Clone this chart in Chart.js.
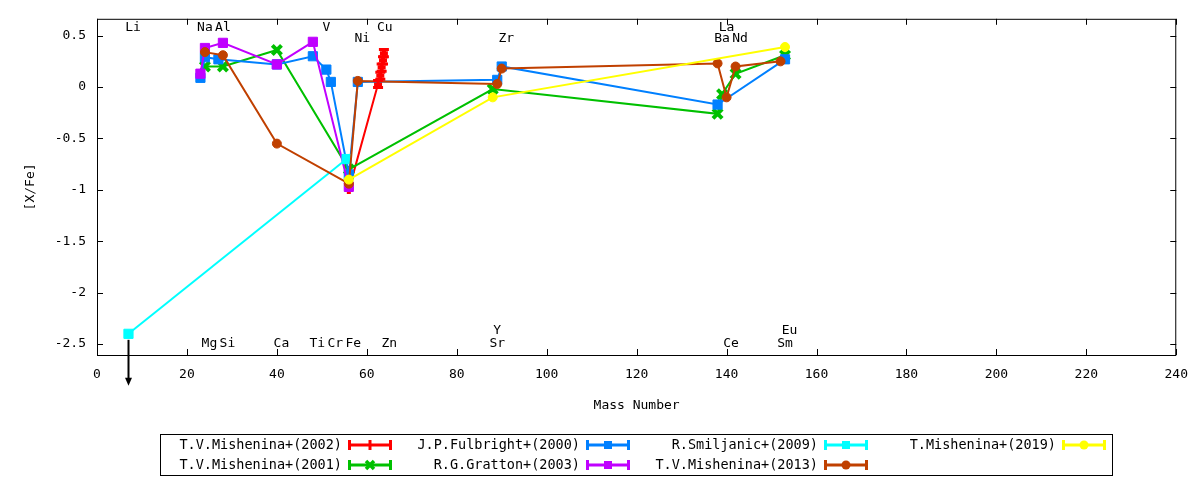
<!DOCTYPE html>
<html>
<head>
<meta charset="utf-8">
<script src="https://cdn.jsdelivr.net/npm/chart.js@4.4.1/dist/chart.umd.min.js"></script>
<style>
  body { margin: 0; background: #fff; }
  #wrap { position: relative; width: 1200px; height: 480px; }
  #legend { position: absolute; left: 160px; top: 434px; width: 951px; height: 40px; border: 1px solid #000;
            font: 13.5px "DejaVu Sans Mono", monospace; color: #000; }
  .item { position: absolute; width: 238px; height: 20px; line-height: 20px; }
  .item span { position: absolute; right: 57px; top: -1px; white-space: nowrap; }
  .item svg { position: absolute; left: 187px; top: 3px; }
</style>
</head>
<body>
<div id="wrap">
  <canvas id="chart" width="1200" height="480"></canvas>
  <div id="legend"></div>
</div>
<script>
// axis ticks
const xTickValues = [0, 20, 40, 60, 80, 100, 120, 140, 160, 180, 200, 220, 240]
const yTickValues = [-2.5, -2, -1.5, -1, -0.5, 0, 0.5]

// element names written on the plot, at their mass number
const topNames = ['Li', 'Na', 'Al', 'V', 'Cu', 'La']
const topMass = [7, 23, 27, 50, 63, 139]
const upperNames = ['Ni', 'Zr', 'Ba', 'Nd']
const upperMass = [58, 90, 138, 142]
const bottomNames = ['Mg', 'Si', 'Ca', 'Ti', 'Cr', 'Fe', 'Zn', 'Sr', 'Ce', 'Sm']
const bottomMass = [24, 28, 40, 48, 52, 56, 64, 88, 140, 152]
const lowerNames = ['Y', 'Eu']
const lowerMass = [88, 153]

// [X/Fe] by mass number, one pair of arrays per study
const mishenina2002Mass = [56, 62.5, 63, 63.3, 63.6, 63.8]
const mishenina2002Val = [-1.0, 0.03, 0.11, 0.19, 0.26, 0.33]
const mishenina2002Err = [0, 0.035, 0.035, 0.035, 0.035, 0.035]

const mishenina2001Mass = [24, 28, 40, 56, 88, 138, 139, 142, 153]
const mishenina2001Val = [0.2, 0.2, 0.36, -0.8, -0.02, -0.26, -0.07, 0.13, 0.31]

const fulbrightMass = [23, 24, 27, 40, 48, 51, 52, 56, 58, 89, 90, 138, 153]
const fulbrightVal = [0.09, 0.29, 0.27, 0.22, 0.3, 0.17, 0.05, -0.85, 0.05, 0.07, 0.2, -0.17, 0.27]

const grattonMass = [23, 24, 28, 40, 48, 56]
const grattonVal = [0.13, 0.38, 0.43, 0.22, 0.44, -0.97]

const smiljanicMass = [7, 55.5]
const smiljanicVal = [-2.4, -0.7]
const smiljanicUpperLimit = [true, false]

const mishenina2013Mass = [24, 28, 40, 56, 58, 89, 90, 138, 140, 142, 152]
const mishenina2013Val = [0.34, 0.31, -0.55, -0.94, 0.06, 0.03, 0.18, 0.23, -0.1, 0.2, 0.25]

const mishenina2019Mass = [56, 88, 153]
const mishenina2019Val = [-0.9, -0.1, 0.39]

const FONT = { family: '"DejaVu Sans Mono", monospace', size: 13 }

const series = [
  { label: 'T.V.Mishenina+(2002)', mass: mishenina2002Mass, val: mishenina2002Val, err: mishenina2002Err, color: '#ff0000', style: 'cross', radius: 4 },
  { label: 'T.V.Mishenina+(2001)', mass: mishenina2001Mass, val: mishenina2001Val, color: '#00c000', style: 'crossRot', radius: 6.5 },
  { label: 'J.P.Fulbright+(2000)', mass: fulbrightMass, val: fulbrightVal, color: '#0080ff', style: 'rect', radius: 6.5 },
  { label: 'R.G.Gratton+(2003)', mass: grattonMass, val: grattonVal, color: '#c000ff', style: 'rect', radius: 6.5 },
  { label: 'R.Smiljanic+(2009)', mass: smiljanicMass, val: smiljanicVal, limit: smiljanicUpperLimit, color: '#00ffff', style: 'rect', radius: 6.5 },
  { label: 'T.V.Mishenina+(2013)', mass: mishenina2013Mass, val: mishenina2013Val, color: '#c04000', style: 'circle', radius: 4.5 },
  { label: 'T.Mishenina+(2019)', mass: mishenina2019Mass, val: mishenina2019Val, color: '#ffff00', style: 'circle', radius: 4.5 }
]

const datasets = series.map((s, i) => ({
  label: s.label,
  data: s.mass.map((m, k) => ({ x: m, y: s.val[k] })),
  borderColor: s.color,
  backgroundColor: s.color,
  borderWidth: 2,
  pointStyle: s.style,
  pointRadius: s.radius,
  pointBorderWidth: s.style.startsWith('cross') ? 4 : 1,
  pointBackgroundColor: s.color,
  pointBorderColor: s.color,
  tension: 0,
  order: series.length - i
}))

const annotate = {
  id: 'annotate',
  afterDatasetsDraw(chart) {
    const { ctx, chartArea: a, scales: { x, y } } = chart
    ctx.save()

    // error bars
    series.forEach(s => {
      if (!s.err) return
      ctx.strokeStyle = s.color
      ctx.lineWidth = 3
      s.mass.forEach((m, k) => {
        if (!s.err[k]) return
        const px = x.getPixelForValue(m)
        const y1 = y.getPixelForValue(s.val[k] - s.err[k])
        const y2 = y.getPixelForValue(s.val[k] + s.err[k])
        ctx.beginPath()
        ctx.moveTo(px, y1); ctx.lineTo(px, y2)
        ctx.moveTo(px - 5, y1); ctx.lineTo(px + 5, y1)
        ctx.moveTo(px - 5, y2); ctx.lineTo(px + 5, y2)
        ctx.stroke()
      })
    })

    // frame and inward ticks
    ctx.strokeStyle = '#000'
    ctx.lineWidth = 1
    ctx.strokeRect(a.left + 0.5, a.top + 0.5, a.right - a.left - 1, a.bottom - a.top)
    ctx.beginPath()
    x.ticks.forEach(t => {
      const px = Math.round(x.getPixelForValue(t.value)) + 0.5
      ctx.moveTo(px, a.bottom); ctx.lineTo(px, a.bottom - 6)
      ctx.moveTo(px, a.top); ctx.lineTo(px, a.top + 6)
    })
    y.ticks.forEach(t => {
      const py = Math.round(y.getPixelForValue(t.value)) + 0.5
      ctx.moveTo(a.left, py); ctx.lineTo(a.left + 6, py)
      ctx.moveTo(a.right, py); ctx.lineTo(a.right - 6, py)
    })
    ctx.stroke()

    // upper limits
    series.forEach(s => {
      if (!s.limit) return
      s.mass.forEach((m, k) => {
        if (!s.limit[k]) return
        const px = Math.round(x.getPixelForValue(m)) + 0.5
        const py = y.getPixelForValue(s.val[k]) + 6
        const end = py + 46
        ctx.strokeStyle = '#000'
        ctx.fillStyle = '#000'
        ctx.lineWidth = 2
        ctx.beginPath()
        ctx.moveTo(px, py); ctx.lineTo(px, end - 6)
        ctx.stroke()
        ctx.beginPath()
        ctx.moveTo(px - 3.5, end - 8); ctx.lineTo(px + 3.5, end - 8); ctx.lineTo(px, end)
        ctx.closePath()
        ctx.fill()
      })
    })

    // element names
    ctx.fillStyle = '#000'
    ctx.font = FONT.size + 'px ' + FONT.family
    ctx.textAlign = 'center'
    ctx.textBaseline = 'middle'
    const rows = [[topNames, topMass, 0.576], [upperNames, upperMass, 0.47],
                  [bottomNames, bottomMass, -2.5], [lowerNames, lowerMass, -2.365]]
    rows.forEach(([names, mass, level]) => {
      names.forEach((n, k) => {
        ctx.fillText(n, x.getPixelForValue(mass[k]) + 4.5, y.getPixelForValue(level))
      })
    })
    ctx.restore()
  }
}

new Chart('chart', {
  type: 'line',
  data: { datasets },
  options: {
    responsive: false,
    animation: false,
    layout: { padding: { left: 0, top: 17, right: 23, bottom: 55 } },
    plugins: { legend: { display: false }, tooltip: { enabled: false } },
    scales: {
      x: {
        type: 'linear', min: 0, max: 240,
        afterBuildTicks: s => { s.ticks = xTickValues.map(v => ({ value: v })) },
        ticks: { color: '#000', font: FONT, padding: 12, maxRotation: 0 },
        grid: { display: false, drawTicks: false },
        border: { display: false },
        title: { display: true, text: 'Mass Number', color: '#000', font: FONT, padding: { top: 0, bottom: 12 } },
        afterFit: s => { s.height = 70 }
      },
      y: {
        type: 'linear', min: -2.606, max: 0.664,
        afterBuildTicks: s => { s.ticks = yTickValues.map(v => ({ value: v })) },
        ticks: { color: '#000', font: FONT, padding: 11, callback: v => String(v) },
        grid: { display: false, drawTicks: false },
        border: { display: false },
        title: { display: true, text: '[X/Fe]', color: '#000', font: FONT, padding: { top: 23, bottom: 0 } },
        afterFit: s => { s.width = 97 }
      }
    }
  },
  plugins: [annotate]
})

// legend: two rows, filled column by column
const legend = document.getElementById('legend')
series.forEach((s, i) => {
  const item = document.createElement('div')
  item.className = 'item'
  item.style.left = (Math.floor(i / 2) * 238) + 'px'
  item.style.top = ((i % 2) * 20) + 'px'
  let mark = ''
  if (s.style === 'rect') mark = `<rect x="18" y="3" width="8" height="8" fill="${s.color}"/>`
  else if (s.style === 'circle') mark = `<circle cx="22" cy="7" r="4.5" fill="${s.color}"/>`
  else if (s.style === 'crossRot') mark = `<path d="M18 3L26 11M26 3L18 11" stroke="${s.color}" stroke-width="3.5"/>`
  else mark = `<path d="M22 2V12" stroke="${s.color}" stroke-width="3"/>`
  item.innerHTML = `<span>${s.label}</span>` +
    `<svg width="44" height="14"><path d="M1 7H43M1.5 2V12M42.5 2V12" stroke="${s.color}" stroke-width="3" fill="none"/>${mark}</svg>`
  legend.appendChild(item)
})
</script>
</body>
</html>
